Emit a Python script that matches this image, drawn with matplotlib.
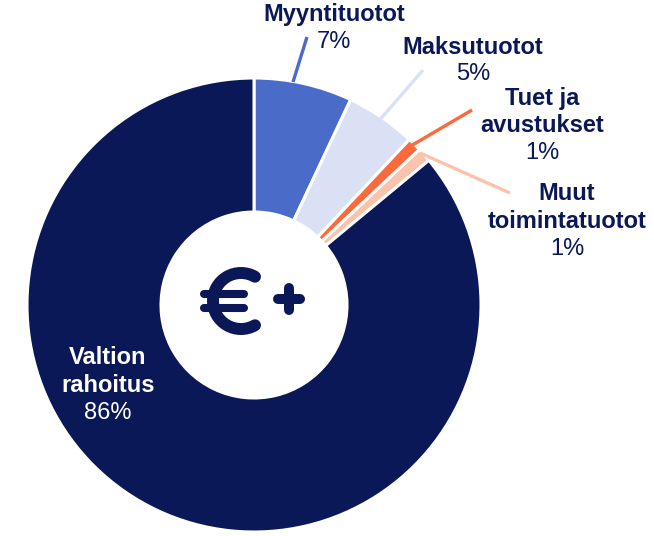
#
# Donut chart of income sources with a euro icon in the middle
#
import matplotlib.pyplot as plt
from matplotlib.patches import Arc

# Data
labels = ['Myyntituotot', 'Maksutuotot', 'Tuet ja\navustukset',
          'Muut\ntoimintatuotot', 'Valtion\nrahoitus']
values = [7, 5, 1, 1, 86]
pctLabels = ['7%', '5%', '1%', '1%', '86%']

# Styles
colors = ['#4a6cc8', '#dbe1f4', '#fb6a3c', '#fbc3ab', '#0a1857']
navy = '#0a1857'
W, H = 654, 536
cx, cy = 254, 305        # donut centre in image pixels
rOut, rIn = 227, 93


def Y(y):
    # image pixel row -> data y
    return H - y


fig = plt.figure(figsize=[W/100, H/100], dpi=100)
ax = fig.add_axes([0, 0, 1, 1])
ax.pie(values, colors=colors, startangle=90, counterclock=False,
       radius=rOut, center=(cx, Y(cy)),
       wedgeprops=dict(width=rOut-rIn, edgecolor='white', linewidth=2.2))
ax.set_xlim(0, W)
ax.set_ylim(0, H)
ax.set_aspect('auto')
ax.axis('off')

# leader lines
leaders = [((293, 82), (307, 37)),
           ((358, 145), (423, 70)),
           ((409, 147), (472, 110)),
           ((420, 153), (510, 193))]
for (p0, p1), c in zip(leaders, colors[:4]):
    ax.plot([p0[0], p1[0]], [Y(p0[1]), Y(p1[1])], color=c, lw=2.4,
            solid_capstyle='butt', zorder=3)

# labels: (x centre, first line y)
labelPos = [(334, 15), (473, 47), (542, 98), (567, 194), (108, 358)]
step = 27.5
font = 'Liberation Sans'
for i, (x, y0) in enumerate(labelPos):
    tc = 'white' if i == 4 else navy
    lines = labels[i].split('\n')
    for j, ln in enumerate(lines):
        ax.text(x, Y(y0 + j*step), ln, ha='center', va='center',
                fontsize=17, fontweight='bold', color=tc, family=font)
    ax.text(x, Y(y0 + len(lines)*step), pctLabels[i], ha='center',
            va='center', fontsize=17, color=tc, family=font)

# euro + icon in the hole
arc = Arc((241, Y(301)), 56, 56, theta1=60, theta2=300,
          color=navy, lw=8.6, zorder=4)
arc.set_capstyle('round')
ax.add_patch(arc)
for yb in [294, 308]:
    ax.plot([204, 244], [Y(yb), Y(yb)], color=navy, lw=5.8,
            solid_capstyle='round', zorder=4)
ax.plot([278, 300], [Y(298.5), Y(298.5)], color=navy, lw=7.2,
        solid_capstyle='round', zorder=4)
ax.plot([289, 289], [Y(288), Y(310)], color=navy, lw=7.2,
        solid_capstyle='round', zorder=4)

plt.savefig('out.png', dpi=100, facecolor='white')
plt.close()
